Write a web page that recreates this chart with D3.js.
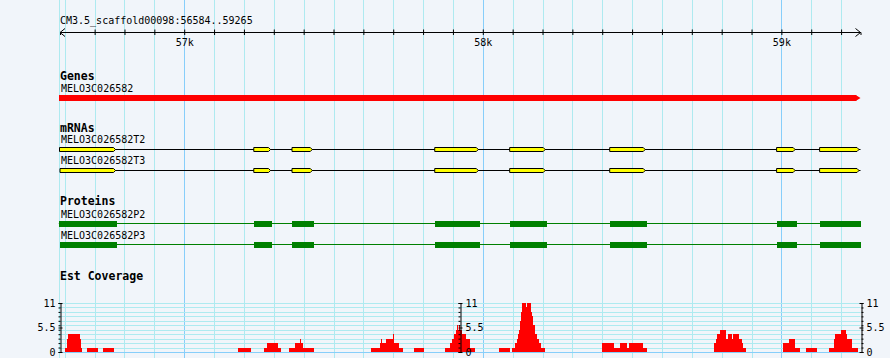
<!DOCTYPE html>
<html>
<head>
<meta charset="utf-8">
<script src="https://cdn.jsdelivr.net/npm/d3@7/dist/d3.min.js"></script>
<style>
  body { margin: 0; background: #fff; }
  svg text { font-family: "DejaVu Sans Mono", monospace; fill: #000; }
</style>
</head>
<body>
<div id="wrapper"></div>
<script>
// ---- data ----
const refName = "CM3.5_scaffold00098"
const viewStart = 56584
const viewEnd = 59265

const trackTitles = ["Genes", "mRNAs", "Proteins", "Est Coverage"]

const geneName = "MELO3C026582"
const geneSpan = [56584, 59265]

const mrnaNames = ["MELO3C026582T2", "MELO3C026582T3"]
const mrnaExons = [
    [[56580, 56775], [57233, 57294], [57361, 57434], [57839, 57990], [58090, 58214], [58425, 58549], [58984, 59051], [59128, 59265]],
    [[56584, 56775], [57233, 57294], [57361, 57434], [57839, 57990], [58090, 58214], [58425, 58549], [58984, 59051], [59128, 59265]],
]

const proteinNames = ["MELO3C026582P2", "MELO3C026582P3"]
const proteinCds = [
    [[56580, 56775], [57233, 57294], [57361, 57434], [57839, 57990], [58090, 58214], [58425, 58549], [58984, 59051], [59128, 59265]],
    [[56584, 56775], [57233, 57294], [57361, 57434], [57839, 57990], [58090, 58214], [58425, 58549], [58984, 59051], [59128, 59265]],
]

// est coverage: [start, end, depth]
const coverage = [
    [56601, 56607, 1], [56607, 56611, 3], [56611, 56651, 4], [56651, 56654, 3], [56654, 56658, 1],
    [56674, 56711, 1],
    [56728, 56765, 1],
    [57180, 57223, 1],
    [57267, 57277, 1], [57277, 57314, 2], [57314, 57324, 1],
    [57350, 57371, 1], [57371, 57387, 2], [57387, 57390, 3], [57390, 57397, 2], [57397, 57434, 1],
    [57625, 57655, 1], [57655, 57658, 2], [57658, 57661, 3], [57661, 57675, 2], [57675, 57699, 3],
    [57699, 57702, 4], [57702, 57719, 2], [57719, 57732, 1],
    [57769, 57802, 1],
    [57873, 57889, 1], [57889, 57896, 2], [57896, 57903, 3], [57903, 57909, 4], [57909, 57913, 5],
    [57913, 57916, 6], [57916, 57920, 5], [57920, 57923, 6], [57923, 57929, 5], [57929, 57943, 4],
    [57943, 57956, 3], [57956, 57973, 1],
    [58053, 58090, 1],
    [58097, 58107, 1], [58107, 58114, 2], [58114, 58117, 3], [58117, 58120, 4], [58120, 58124, 5],
    [58124, 58127, 7], [58127, 58130, 9], [58130, 58144, 11], [58144, 58147, 10], [58147, 58160, 11],
    [58160, 58164, 9], [58164, 58167, 8], [58167, 58174, 6], [58174, 58181, 4], [58181, 58187, 3],
    [58187, 58194, 2], [58194, 58207, 1],
    [58398, 58438, 2], [58438, 58458, 1], [58458, 58482, 2], [58482, 58489, 1], [58489, 58505, 2],
    [58505, 58508, 3], [58508, 58535, 2], [58535, 58549, 1],
    [58773, 58780, 2], [58780, 58786, 3], [58786, 58796, 4], [58796, 58813, 5], [58813, 58820, 3],
    [58820, 58833, 4], [58833, 58837, 3], [58837, 58857, 4], [58857, 58867, 3], [58867, 58873, 2],
    [58873, 58883, 1],
    [59004, 59024, 2], [59024, 59044, 3], [59044, 59061, 1],
    [59081, 59118, 1],
    [59161, 59175, 1], [59175, 59181, 3], [59181, 59201, 4], [59201, 59215, 5], [59215, 59221, 4],
    [59221, 59235, 3], [59235, 59255, 1],
]
const coverageMax = 11
const coverageLabels = [0, 5.5, 11]

async function drawBrowser() {

    let dimensions = {
        width: 890,
        height: 358,
        margin: {
            left: 60,
            right: 29.5,
        },
    }
    dimensions.boundedWidth = dimensions.width -
        dimensions.margin.left -
        dimensions.margin.right

    const colors = {
        bg: "#f1f5fa",
        grid: "#aeeaf0",
        gridMajor: "#87cefa",
        gene: "#ff0000",
        mrna: "#ffff00",
        protein: "#008000",
    }

    const svg = d3.select("#wrapper")
        .append("svg")
        .attr("width", dimensions.width)
        .attr("height", dimensions.height)
        .style("display", "block")

    svg.append("rect")
        .attr("width", dimensions.width)
        .attr("height", dimensions.height)
        .attr("fill", colors.bg)

    const xScale = d3.scaleLinear()
        .domain([viewStart, viewEnd])
        .range([dimensions.margin.left, dimensions.margin.left + dimensions.boundedWidth])

    const px = v => Math.round(v) + 0.5

    // vertical grid, one line every 100 bp
    const gridTicks = d3.range(Math.ceil(viewStart / 100) * 100, viewEnd, 100)

    const grid = svg.append("g").attr("class", "grid")
    grid.append("line")
        .attr("x1", px(xScale(viewStart)) - 1)
        .attr("x2", px(xScale(viewStart)) - 1)
        .attr("y1", 0)
        .attr("y2", dimensions.height)
        .attr("stroke", colors.grid)
    grid.selectAll(".vline")
        .data(gridTicks)
        .join("line")
        .attr("class", "vline")
        .attr("x1", d => px(xScale(d)))
        .attr("x2", d => px(xScale(d)))
        .attr("y1", 0)
        .attr("y2", dimensions.height)
        .attr("stroke", d => d % 1000 === 0 ? colors.gridMajor : colors.grid)

    // ruler
    svg.append("text")
        .attr("x", xScale(viewStart))
        .attr("y", 24)
        .attr("font-size", 10)
        .text(`${refName}:${viewStart}..${viewEnd}`)

    svg.append("g")
        .attr("transform", "translate(0,32)")
        .call(d3.axisBottom(xScale)
            .tickValues(gridTicks.filter(d => xScale(d) > xScale(viewStart) + 8))
            .tickSizeOuter(0)
            .tickSize(3)
            .tickFormat(d => d % 1000 === 0 ? `${d / 1000}k` : ""))
        .call(g => g.select(".domain").attr("stroke", "#000"))
        .call(g => g.selectAll(".tick line").attr("y1", -2.5).attr("y2", 3))
        .call(g => g.selectAll(".tick text")
            .attr("y", 13.5)
            .attr("dy", 0)
            .attr("font-size", 10))

    const r0 = xScale(viewStart)
    const r1 = xScale(viewEnd)
    svg.append("path")
        .attr("d", `M${r0 + 5},28.5L${r0},32.5L${r0 + 5},36.5M${r1 - 5},28.5L${r1},32.5L${r1 - 5},36.5`)
        .attr("fill", "none")
        .attr("stroke", "#000")

    // track titles
    const titleY = [80, 132, 205, 280]
    svg.selectAll(".track-title")
        .data(trackTitles)
        .join("text")
        .attr("class", "track-title")
        .attr("x", dimensions.margin.left)
        .attr("y", (d, i) => titleY[i])
        .attr("font-size", 11.5)
        .attr("font-weight", "bold")
        .text(d => d)

    // genes
    svg.append("text")
        .attr("x", dimensions.margin.left + 1)
        .attr("y", 92)
        .attr("font-size", 10)
        .text(geneName)

    const g0 = xScale(geneSpan[0]) - 1
    const g1 = xScale(geneSpan[1])
    svg.append("path")
        .attr("d", `M${g0},95L${g1 - 4},95L${g1 - 4},95.5L${g1},98L${g1 - 4},100.5L${g1 - 4},101L${g0},101Z`)
        .attr("fill", colors.gene)

    // mRNAs
    const mrnaLabelY = [143, 164]
    const mrnaLineY = [149.5, 170.5]
    mrnaNames.forEach((name, i) => {
        const row = svg.append("g").attr("class", "mrna")
        const exons = mrnaExons[i]
        const cy = mrnaLineY[i]
        row.append("text")
            .attr("x", dimensions.margin.left + 1)
            .attr("y", mrnaLabelY[i])
            .attr("font-size", 10)
            .text(name)
        row.append("line")
            .attr("x1", Math.max(xScale(exons[0][0]), xScale(viewStart)))
            .attr("x2", xScale(exons[exons.length - 1][1]))
            .attr("y1", cy)
            .attr("y2", cy)
            .attr("stroke", "#000")
        row.selectAll("path")
            .data(exons)
            .join("path")
            .attr("d", d => {
                const s = Math.max(xScale(d[0]), xScale(viewStart) - 0.5)
                const e = xScale(d[1]) - 1.5
                return `M${s},${cy - 2}L${e - 2},${cy - 2}L${e},${cy}L${e - 2},${cy + 2}L${s},${cy + 2}Z`
            })
            .attr("fill", colors.mrna)
            .attr("stroke", "#000")
    })

    // proteins
    const proteinLabelY = [218, 239]
    const proteinBoxY = [221, 242]
    proteinNames.forEach((name, i) => {
        const row = svg.append("g").attr("class", "protein")
        const cds = proteinCds[i]
        const top = proteinBoxY[i]
        row.append("text")
            .attr("x", dimensions.margin.left + 1)
            .attr("y", proteinLabelY[i])
            .attr("font-size", 10)
            .text(name)
        row.append("line")
            .attr("x1", xScale(cds[0][0]))
            .attr("x2", xScale(cds[cds.length - 1][1]))
            .attr("y1", top + 2.5)
            .attr("y2", top + 2.5)
            .attr("stroke", colors.protein)
        row.selectAll("rect")
            .data(cds)
            .join("rect")
            .attr("x", d => Math.max(xScale(d[0]), xScale(viewStart) - 1))
            .attr("width", d => xScale(d[1]) - Math.max(xScale(d[0]), xScale(viewStart) - 1))
            .attr("y", top)
            .attr("height", 6)
            .attr("fill", colors.protein)
            .attr("shape-rendering", "crispEdges")
    })

    // est coverage
    const yScale = d3.scaleLinear()
        .domain([0, coverageMax])
        .range([352, 303])

    const cov = svg.append("g").attr("class", "coverage")
    cov.selectAll(".hline")
        .data(d3.range(0, coverageMax + 1))
        .join("line")
        .attr("class", "hline")
        .attr("x1", xScale(viewStart))
        .attr("x2", xScale(viewEnd))
        .attr("y1", d => px(yScale(d)))
        .attr("y2", d => px(yScale(d)))
        .attr("stroke", d => d === 0 ? colors.gridMajor : colors.grid)

    cov.selectAll(".bar")
        .data(coverage)
        .join("rect")
        .attr("class", "bar")
        .attr("x", d => xScale(d[0]))
        .attr("width", d => xScale(d[1]) - xScale(d[0]))
        .attr("y", d => yScale(d[2]))
        .attr("height", d => yScale(0) - yScale(d[2]))
        .attr("fill", colors.gene)
        .attr("shape-rendering", "crispEdges")

    const intTicks = d3.range(0, coverageMax + 1)
    const axisX = [
        px(xScale(viewStart)),
        px((xScale(viewStart) + xScale(viewEnd)) / 2),
        px(xScale(viewEnd)),
    ]
    axisX.forEach((ax, i) => {
        const major = i === 0 ? d3.axisLeft(yScale) : d3.axisRight(yScale)
        const minorDir = i === 2 ? 1 : -1
        cov.append("g")
            .attr("transform", `translate(${ax},0)`)
            .call(d3.axisLeft(yScale).tickValues(intTicks).tickSizeOuter(0).tickFormat(""))
            .call(g => g.select(".domain").attr("stroke", "#000"))
            .call(g => g.selectAll(".tick line").attr("x1", 0).attr("x2", 2 * minorDir))
        cov.append("g")
            .attr("transform", `translate(${ax},0)`)
            .call(major.tickValues(coverageLabels).tickSize(2).tickPadding(3).tickFormat(d => d))
            .call(g => g.select(".domain").remove())
            .call(g => g.selectAll(".tick line").attr("x1", -2).attr("x2", 2))
            .call(g => g.selectAll(".tick text").attr("font-size", 10))
    })
}

drawBrowser()
</script>
</body>
</html>
